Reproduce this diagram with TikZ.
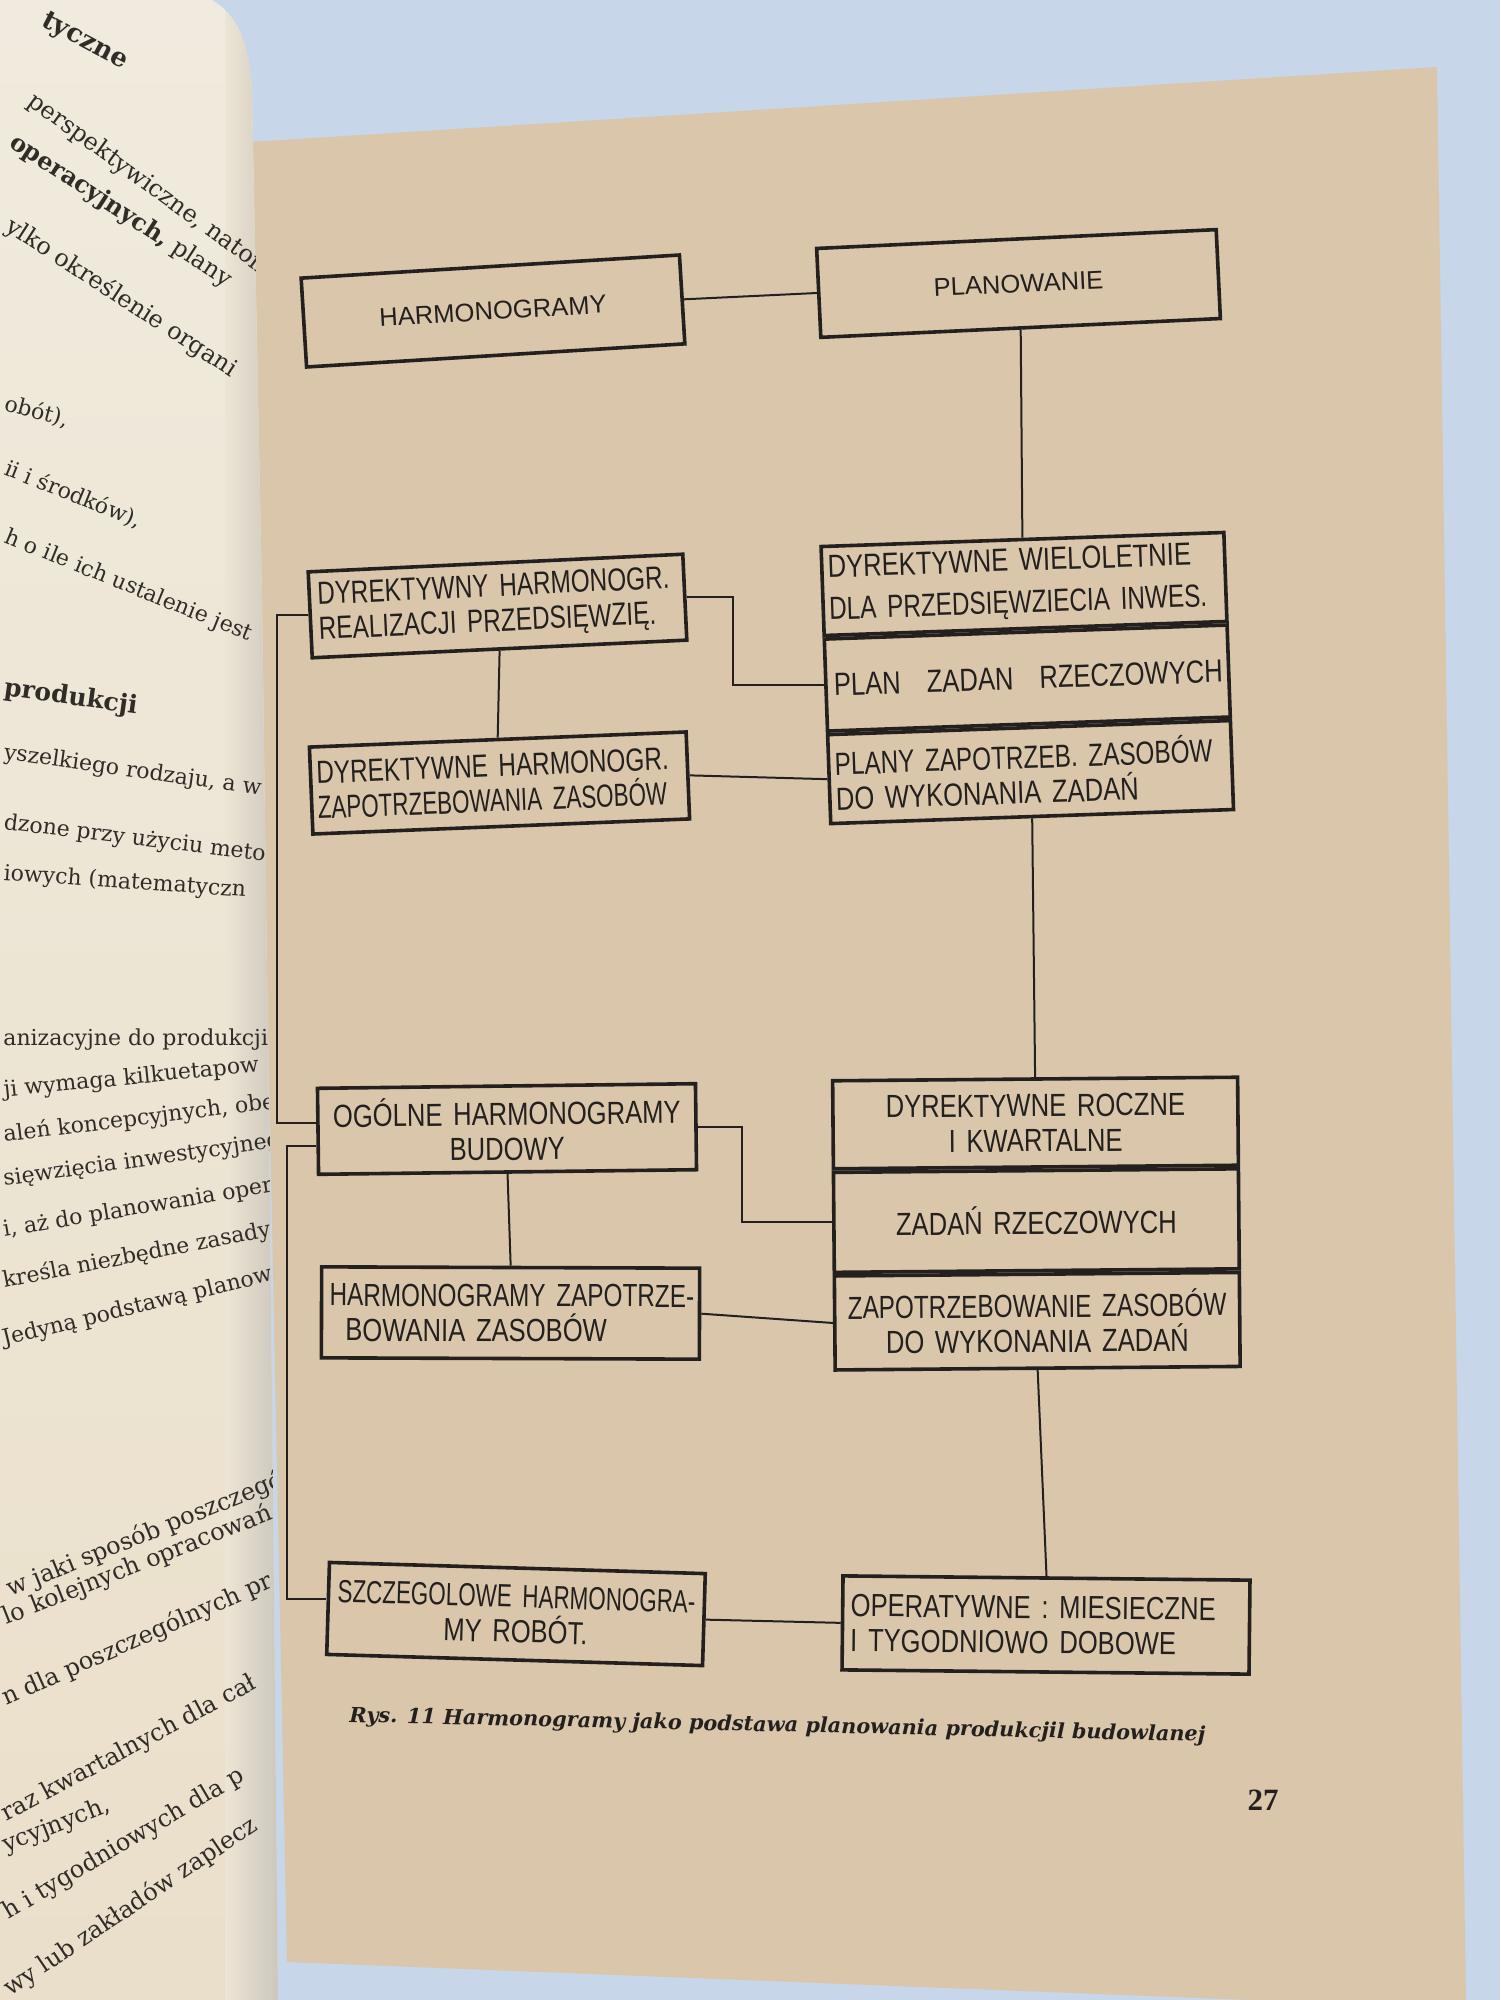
\documentclass[tikz,border=0pt]{standalone}
\usepackage{fontspec}
\setmainfont{DejaVu Serif}
\newfontfamily\stencil[FakeStretch=0.8,WordSpace=2.0]{Liberation Sans}
\newfontfamily\stencilM[FakeStretch=0.76,WordSpace=2.0]{Liberation Sans}
\newfontfamily\stencilN[FakeStretch=0.7,WordSpace=2.0]{Liberation Sans}
\newfontfamily\labfont[WordSpace=1.5]{Liberation Sans}
\newfontfamily\capfont{DejaVu Serif}
\newfontfamily\numfont{Liberation Serif}
\usetikzlibrary{calc}
\definecolor{sky}{RGB}{199,214,233}
\definecolor{paper}{RGB}{218,199,171}
\definecolor{lpa}{RGB}{240,235,222}
\definecolor{lpb}{RGB}{234,223,202}
\definecolor{lpedge}{RGB}{203,198,188}
\definecolor{ink}{RGB}{36,32,30}
\definecolor{lefttext}{RGB}{48,44,40}
\begin{document}
\begin{tikzpicture}[x=0.5pt,y=-0.5pt,
  box/.style={draw=ink, line width=1.8pt, inner xsep=4pt, inner ysep=1pt, text=ink,
              font={\stencil\fontsize{16}{17.5}\selectfont}},
  topbox/.style={box, font={\labfont\fontsize{12.8}{14}\selectfont}},
  conn/.style={draw=ink, line width=1pt},
  ptext/.style={anchor=base west, inner sep=0pt, text=lefttext, font={\fontsize{11}{13}\selectfont}},
  ptextL/.style={ptext, font={\fontsize{12}{14}\selectfont}}]
\useasboundingbox (0,0) rectangle (1500,2000);
% background and pages
\fill[sky] (0,0) rectangle (1500,2000);
\fill[paper] (250,142) -- (1437,67) -- (1466,2000) -- (1250,2000) -- (287,1962) -- cycle;
\begin{scope}
  \clip (0,0) -- (212,0) .. controls (238,15) and (250,45) .. (252,95) -- (262,600) -- (270,1200) -- (278,2000) -- (0,2000) -- cycle;
  \shade[top color=lpa, bottom color=lpb] (0,0) rectangle (300,2000);
  \shade[left color=lpa!50!lpb, right color=lpedge] (225,0) rectangle (280,2000);
  % left page text
  \node[ptextL, rotate=-28, font={\bfseries\fontsize{13}{15}\selectfont}] (l1) at (40,25) {tyczne};
  \node[ptextL, rotate=-36] (l2) at (26,104) {perspektywiczne, natom};
  \node[ptextL, rotate=-33] (l3) at (8,146) {{\bfseries operacyjnych,} plany};
  \node[ptextL, rotate=-33] (l4) at (4,230) {ylko określenie organi};
  \node[ptext, rotate=-15] (l5) at (3,410) {obót),};
  \node[ptext, rotate=-22] (l6) at (3,474) {ii i środków),};
  \node[ptext, rotate=-22] (l7) at (3,542) {h o ile ich ustalenie jest};
  \node[ptext, rotate=-8, font={\bfseries\fontsize{12.5}{14}\selectfont}] (l8) at (3,695) {produkcji};
  \node[ptext, rotate=-8] (l9) at (3,759) {yszelkiego rodzaju, a w};
  \node[ptext, rotate=-7] (l10) at (3,829) {dzone przy użyciu meto};
  \node[ptext, rotate=-4] (l11) at (3,880) {iowych (matematyczn};
  \node[ptext, rotate=0] (l12) at (3,1045) {anizacyjne do produkcji};
  \node[ptext, rotate=5.7] (l13) at (4,1097) {ji wymaga kilkuetapow};
  \node[ptext, rotate=7] (l14) at (4,1142) {aleń koncepcyjnych, obej};
  \node[ptext, rotate=8] (l15) at (4,1186) {sięwzięcia inwestycyjneg};
  \node[ptext, rotate=9.5] (l16) at (4,1237) {i, aż do planowania oper};
  \node[ptext, rotate=11] (l17) at (4,1288) {kreśla niezbędne zasady};
  \node[ptext, rotate=13.7] (l18) at (4,1346) {Jedyną podstawą planow};
  \node[ptextL, rotate=22] (l19) at (10,1597) {w jaki sposób poszczegól};
  \node[ptextL, rotate=21.6] (l20) at (6,1625) {lo kolejnych opracowań};
  \node[ptextL, rotate=24] (l21) at (6,1706) {n dla poszczególnych pr};
  \node[ptextL, rotate=28] (l22) at (6,1822) {raz kwartalnych dla cał};
  \node[ptextL, rotate=21.6] (l23) at (6,1853) {ycyjnych,};
  \node[ptextL, rotate=30.5] (l24) at (8,1920) {h i tygodniowych dla p};
  \node[ptextL, rotate=34] (l25) at (10,1997) {wy lub zakładów zaplecz};
\end{scope}
% ---- diagram boxes ----
\node[topbox, rotate=3.5, minimum width=189.5pt, minimum height=44.5pt] (harm) at (493,311) {HARMONOGRAMY};
\node[topbox, rotate=2.7, minimum width=200pt, minimum height=44.5pt] (plan) at (1018.5,283.5) {PLANOWANIE};
\node[box, rotate=2.7, minimum width=187.5pt, minimum height=43pt, text width=179.5pt, align=left] (dyr1) at (497.5,606)
  {\mbox{\stencilM DYREKTYWNY HARMONOGR.}\\\mbox{\stencilM REALIZACJI PRZEDSIĘWZIĘ.}};
\node[box, rotate=2.0, minimum width=201.5pt, minimum height=44.5pt, text width=195.5pt, inner xsep=3pt, align=left,
      font={\stencil\fontsize{16}{21}\selectfont}] (b1r1) at (1024,584)
  {\mbox{DYREKTYWNE WIELOLETNIE}\\\mbox{\stencilM DLA PRZEDSIĘWZIECIA INWES.}};
\node[box, rotate=2.0, minimum width=201.5pt, minimum height=46pt, text width=193.5pt, align=left, anchor=north] (b1r2) at (b1r1.south)
  {\mbox{PLAN\hspace{13pt}ZADAN\hspace{13pt}RZECZOWYCH}};
\node[box, rotate=2.0, minimum width=201.5pt, minimum height=44.5pt, text width=195.5pt, inner xsep=3pt, anchor=north, align=left] (b1r3) at (b1r2.south)
  {\mbox{\stencilM PLANY ZAPOTRZEB. ZASOBÓW}\\\mbox{DO WYKONANIA ZADAŃ}};
\node[box, rotate=2.3, minimum width=188.5pt, minimum height=43.5pt, text width=182.5pt, inner xsep=3pt, align=left] (dyr2) at (499.5,783)
  {\mbox{\stencilM DYREKTYWNE HARMONOGR.}\\\mbox{\stencilN ZAPOTRZEBOWANIA ZASOBÓW}};
\node[box, rotate=0.7, minimum width=189pt, minimum height=43pt, text width=181pt, align=center] (og) at (507,1129)
  {\mbox{OGÓLNE HARMONOGRAMY}\\\mbox{BUDOWY}};
\node[box, rotate=0.5, minimum width=202.5pt, minimum height=44pt, text width=194.5pt, align=center] (b2r1) at (1035.5,1123)
  {\mbox{DYREKTYWNE ROCZNE}\\\mbox{I KWARTALNE}};
\node[box, rotate=0.5, minimum width=202.5pt, minimum height=50pt, text width=194.5pt, align=center, anchor=north] (b2r2) at (b2r1.south)
  {\mbox{ZADAŃ RZECZOWYCH}};
\node[box, rotate=0.5, minimum width=202.5pt, minimum height=47pt, text width=194.5pt, anchor=north, align=center] (b2r3) at (b2r2.south)
  {\mbox{\stencilM ZAPOTRZEBOWANIE ZASOBÓW}\\\mbox{DO WYKONANIA ZADAŃ}};
\node[box, rotate=-0.2, minimum width=189pt, minimum height=45.5pt, text width=181pt, align=left] (hz) at (510.5,1313)
  {\mbox{\stencilM HARMONOGRAMY ZAPOTRZE-}\\\mbox{\hspace*{8pt}BOWANIA ZASOBÓW}};
\node[box, rotate=-1.7, minimum width=188pt, minimum height=46pt, text width=180pt, align=center] (sz) at (516,1614)
  {\mbox{\stencilN SZCZEGOLOWE HARMONOGRA-}\\\mbox{MY ROBÓT.}};
\node[box, rotate=-0.6, minimum width=203.5pt, minimum height=47pt, text width=195.5pt, align=left] (op) at (1046,1625)
  {\mbox{OPERATYWNE : MIESIECZNE}\\\mbox{I TYGODNIOWO DOBOWE}};
% ---- connectors ----
\draw[conn] (harm.east) -- (plan.west);
\draw[conn] (plan.south) -- (b1r1.north);
\draw[conn] (dyr1.east) -- ++(46,0) |- (b1r2.west);
\draw[conn] (dyr1.south) -- (dyr2.north);
\draw[conn] (dyr2.east) -- (b1r3.west);
\draw[conn] (b1r3.south) -- (b2r1.north);
\draw[conn] (og.east) -- ++(44,0) |- (b2r2.west);
\draw[conn] (og.south) -- (hz.north);
\draw[conn] (hz.east) -- (b2r3.west);
\draw[conn] (b2r3.south) -- (op.north);
\draw[conn] (sz.east) -- (op.west);
\coordinate (ogA) at ($(og.west)+(0,-8)$);
\coordinate (ogB) at ($(og.west)+(0,15)$);
\coordinate (szA) at ($(sz.west)+(0,-9)$);
\draw[conn] (dyr1.west) -- ++(-31,0) |- (ogA);
\draw[conn] (ogB) -- ++(-29,0) |- (szA);
% ---- caption and page number ----
\node[anchor=base west, rotate=-1.3, inner sep=0pt, text=ink,
      font={\capfont\bfseries\itshape\fontsize{10.4}{12}\selectfont}] (cap) at (349,1722)
  {Rys. 11 Harmonogramy jako podstawa planowania produkcjil budowlanej};
\node[text=ink, font={\numfont\bfseries\fontsize{15.5}{18}\selectfont}] (pnum) at (1263,1800) {27};
\end{tikzpicture}
\end{document}
